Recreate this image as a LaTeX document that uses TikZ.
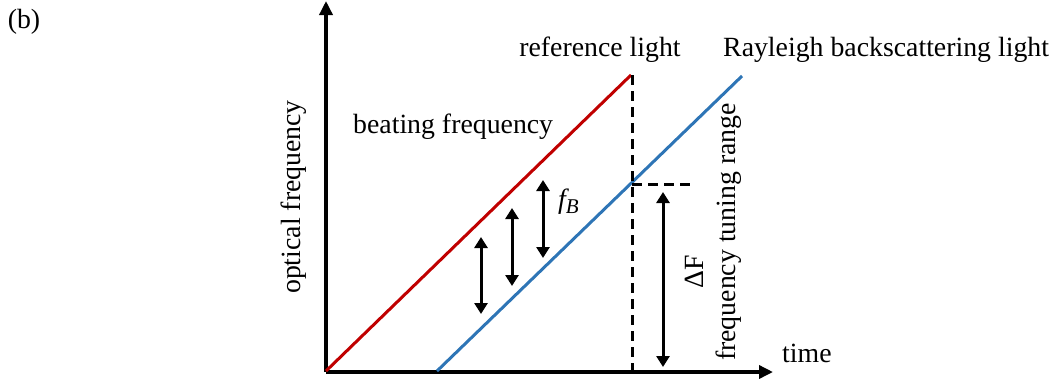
\documentclass[tikz,border=0pt]{standalone}
\usepackage{fontspec}
\setmainfont{Liberation Serif}
\usetikzlibrary{arrows.meta}
\definecolor{refred}{RGB}{192,0,0}
\definecolor{rayblue}{RGB}{46,117,182}
\begin{document}
\begin{tikzpicture}[x=1pt,y=-1pt,
  lbl/.style={inner sep=0pt,font=\fontsize{27.8}{33}\selectfont},
  axis/.style={line width=3.4pt,-{Triangle[length=14pt,width=13pt]}},
  beat/.style={line width=3pt,{Triangle[length=11pt,width=13pt]}-{Triangle[length=11pt,width=13pt]}},
  dsh/.style={line width=3pt,dash pattern=on 10pt off 6pt},
  ramp/.style={line width=3pt}]
\useasboundingbox (0,0) rectangle (1056,378);
% axes
\coordinate (O) at (326,372);
\coordinate (Ytop) at (326,1);
\coordinate (Xend) at (773,372);
\draw[axis] (O) -- (Ytop);
\draw[axis] (O) -- (Xend);
% ramps
\coordinate (Rs) at (326,371);
\coordinate (Re) at (631,75);
\coordinate (Bs) at (437,371);
\coordinate (Be) at (742,76);
\draw[ramp,refred] (Rs) -- (Re);
\draw[ramp,rayblue] (Bs) -- (Be);
% dashed guides
\coordinate (Dtop) at (632,75);
\coordinate (Dbot) at (632,371);
\coordinate (Hs) at (632,184);
\coordinate (He) at (690,184);
\draw[dsh] (Dtop) -- (Dbot);
\draw[dsh] (Hs) -- (He);
% beat arrows
\coordinate (a1t) at (481,237); \coordinate (a1b) at (481,314);
\coordinate (a2t) at (512,208); \coordinate (a2b) at (512,286);
\coordinate (a3t) at (543,180); \coordinate (a3b) at (543,258);
\draw[beat] (a1t) -- (a1b);
\draw[beat] (a2t) -- (a2b);
\draw[beat] (a3t) -- (a3b);
% Delta F arrow
\coordinate (Ft) at (663,192);
\coordinate (Fb) at (663,367);
\draw[beat] (Ft) -- (Fb);
% labels
\node[lbl] (b) at (24,22) {(b)};
\node[lbl,anchor=base] (reflbl) at (600,56) {reference light};
\node[lbl,anchor=base west] (raylbl) at (723,56) {Rayleigh backscattering light};
\node[lbl,anchor=base west] (beatlbl) at (353,133) {beating frequency};
\node[lbl,anchor=base west] (fb) at (558,208) {\itshape f\raisebox{-5pt}{\fontsize{21}{21}\selectfont B}};
\node[lbl,rotate=90] (ylbl) at (294,197) {optical frequency};
\node[lbl,rotate=90] (dF) at (694,272) {ΔF};
\node[lbl,rotate=90] (ftr) at (729,232) {frequency tuning range};
\node[lbl,anchor=base west] (tlbl) at (782,362) {time};
\end{tikzpicture}
\end{document}
